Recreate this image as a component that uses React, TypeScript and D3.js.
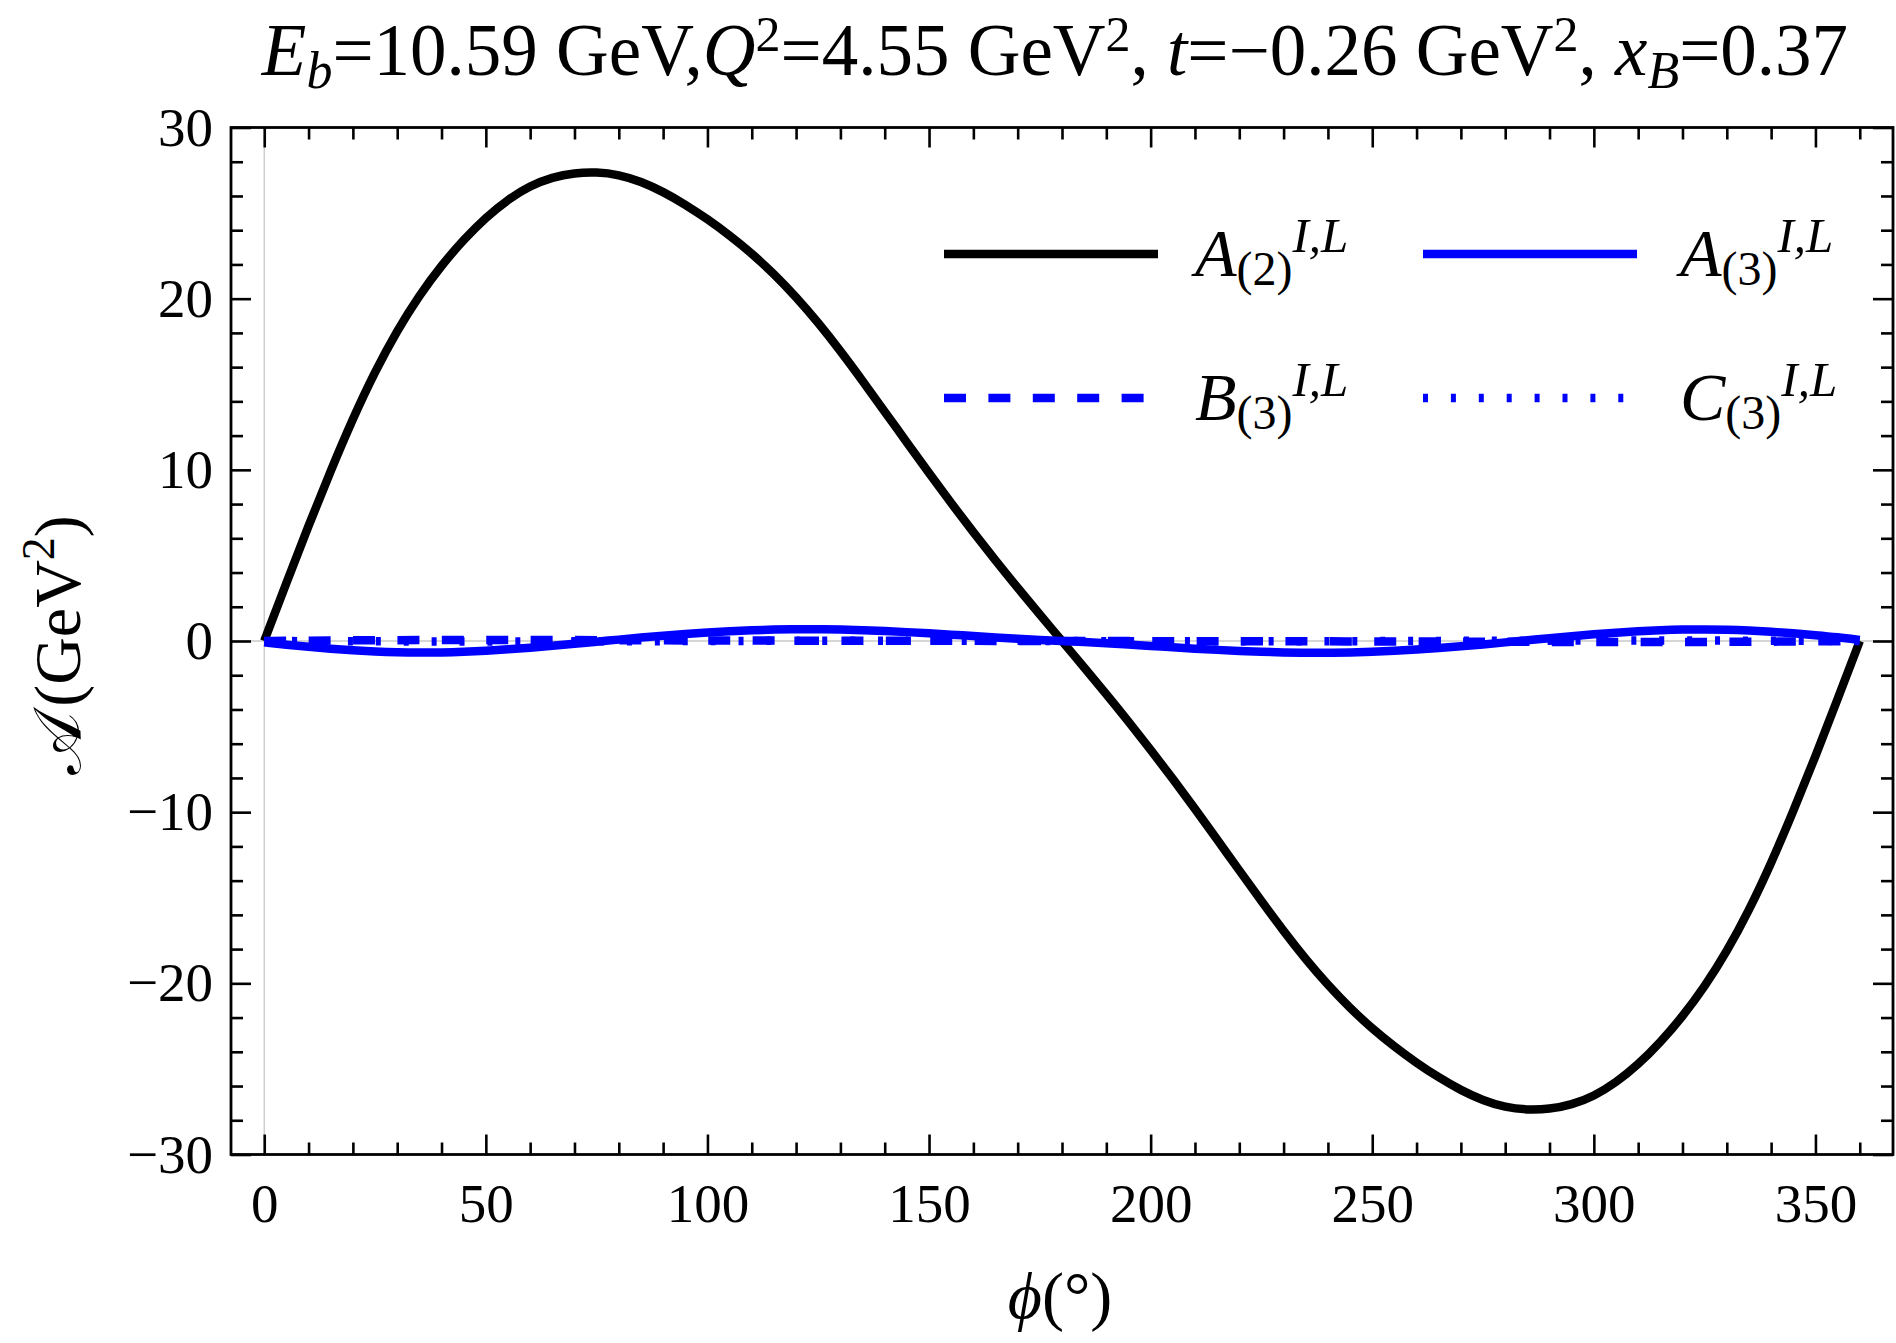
import * as d3 from "d3";
import React from "react";

// phi grid (degrees) for the A curves
const phiA = [
  0, 5, 10, 15, 20, 25, 30, 35, 40, 45, 50, 55, 60, 65, 70, 75, 80, 85, 90, 95,
  100, 105, 110, 115, 120, 125, 130, 135, 140, 145, 150, 155, 160, 165, 170, 175,
  180, 185, 190, 195, 200, 205, 210, 215, 220, 225, 230, 235, 240, 245, 250, 255,
  260, 265, 270, 275, 280, 285, 290, 295, 300, 305, 310, 315, 320, 325, 330, 335,
  340, 345, 350, 355, 360,
];

const a2 = [
  0, 3.4, 6.75, 9.95, 13.0, 15.75, 18.15, 20.2, 21.95, 23.45, 24.75, 25.8, 26.6,
  27.1, 27.35, 27.4, 27.25, 26.85, 26.25, 25.5, 24.65, 23.7, 22.65, 21.45, 20.1,
  18.6, 16.95, 15.2, 13.4, 11.6, 9.8, 8.05, 6.35, 4.7, 3.1, 1.55, 0,
  -1.55, -3.1, -4.7, -6.35, -8.05, -9.8, -11.6, -13.4, -15.2, -16.95, -18.6,
  -20.1, -21.45, -22.65, -23.7, -24.65, -25.5, -26.25, -26.85, -27.25, -27.4,
  -27.35, -27.1, -26.6, -25.8, -24.75, -23.45, -21.95, -20.2, -18.15, -15.75,
  -13.0, -9.95, -6.75, -3.4, 0,
];

const a3 = [
  -0.08, -0.22, -0.34, -0.45, -0.54, -0.61, -0.66, -0.68, -0.67, -0.63, -0.57,
  -0.49, -0.39, -0.28, -0.16, -0.04, 0.08, 0.2, 0.31, 0.41, 0.5, 0.57, 0.63, 0.67,
  0.69, 0.69, 0.67, 0.63, 0.58, 0.52, 0.45, 0.37, 0.29, 0.21, 0.13, 0.06, 0,
  -0.06, -0.13, -0.21, -0.29, -0.37, -0.45, -0.52, -0.58, -0.63, -0.67, -0.69,
  -0.69, -0.67, -0.63, -0.57, -0.5, -0.41, -0.31, -0.2, -0.08, 0.04, 0.16, 0.28,
  0.39, 0.49, 0.57, 0.63, 0.67, 0.68, 0.66, 0.61, 0.54, 0.45, 0.34, 0.22, 0.06,
];

// coarser grid for B and C (both stay close to zero)
const phiBC = [
  0, 10, 20, 30, 40, 50, 60, 70, 80, 90, 100, 110, 120, 130, 140, 150, 160, 170,
  180, 190, 200, 210, 220, 230, 240, 250, 260, 270, 280, 290, 300, 310, 320, 330,
  340, 350, 360,
];

const b3 = [
  0, 0.02, 0.04, 0.05, 0.06, 0.06, 0.06, 0.05, 0.05, 0.04, 0.03, 0.03, 0.02, 0.02,
  0.01, 0.01, 0.01, 0, 0, 0, -0.01, -0.01, -0.01, -0.02, -0.02, -0.03, -0.03,
  -0.04, -0.05, -0.05, -0.06, -0.06, -0.06, -0.05, -0.04, -0.02, 0,
];

const c3 = [
  0, -0.01, -0.02, -0.02, -0.03, -0.03, -0.03, -0.02, -0.02, -0.01, 0, 0.01, 0.01,
  0.02, 0.02, 0.02, 0.01, 0.01, 0, -0.01, -0.01, -0.02, -0.02, -0.02, -0.01,
  -0.01, 0, 0.01, 0.02, 0.02, 0.03, 0.03, 0.03, 0.02, 0.02, 0.01, 0,
];

const xMajorTicks = [0, 50, 100, 150, 200, 250, 300, 350];
const yMajorTicks = [-30, -20, -10, 0, 10, 20, 30];

const W = 1896;
const H = 1343;
const SERIF = "'Liberation Serif', 'Times New Roman', 'DejaVu Serif', serif";

type Series = {
  key: string;
  letter: string;
  sub: string;
  phi: number[];
  values: number[];
  color: string;
  dash: string | null;
};

const series: Series[] = [
  { key: "a2", letter: "A", sub: "(2)", phi: phiA, values: a2, color: "#000000", dash: null },
  { key: "a3", letter: "A", sub: "(3)", phi: phiA, values: a3, color: "#0000ff", dash: null },
  { key: "b3", letter: "B", sub: "(3)", phi: phiBC, values: b3, color: "#0000ff", dash: "22 22.4" },
  { key: "c3", letter: "C", sub: "(3)", phi: phiBC, values: c3, color: "#0000ff", dash: "5 22.9" },
];

export default function App() {
  const ref = React.useRef<SVGSVGElement>(null);

  React.useEffect(() => {
    if (!ref.current) return;
    const svg = d3.select(ref.current);
    svg.selectAll("*").remove();

    const left = 231;
    const right = 1893;
    const top = 127.5;
    const bottom = 1154.5;

    const x = d3.scaleLinear().domain([-7.5, 367.5]).range([left, right]);
    const y = d3.scaleLinear().domain([-30, 30]).range([bottom, top]);

    // light grey axes through the origin
    svg.append("line")
      .attr("x1", x(0)).attr("x2", x(0)).attr("y1", top).attr("y2", bottom)
      .attr("stroke", "#c8c8c8").attr("stroke-width", 1.3);
    svg.append("line")
      .attr("x1", left).attr("x2", right).attr("y1", y(0)).attr("y2", y(0))
      .attr("stroke", "#c8c8c8").attr("stroke-width", 1.3);

    // curves
    const line = d3
      .line<[number, number]>()
      .x((d) => x(d[0]))
      .y((d) => y(d[1]))
      .curve(d3.curveBasis);

    series.forEach((s) => {
      const pts = s.phi.map((p, i) => [p, s.values[i]] as [number, number]);
      svg.append("path")
        .datum(pts)
        .attr("fill", "none")
        .attr("stroke", s.color)
        .attr("stroke-width", 8.5)
        .attr("stroke-dasharray", s.dash)
        .attr("d", line);
    });

    // ticks on all four sides
    const xMinor = d3.range(0, 361, 10).filter((v) => v % 50 !== 0);
    const yMinor = d3.range(-30, 31, 2).filter((v) => v % 10 !== 0);

    const styleAxis = (g: d3.Selection<SVGGElement, unknown, null, undefined>) => {
      g.select(".domain").remove();
      g.selectAll(".tick line").attr("stroke", "#000").attr("stroke-width", 2.6);
      g.selectAll("text")
        .attr("fill", "#000")
        .style("font-family", SERIF)
        .style("font-size", "55px");
    };

    const sides: [string, (s: d3.ScaleLinear<number, number>) => d3.Axis<d3.NumberValue>, string, d3.ScaleLinear<number, number>, boolean][] = [
      ["bottom", d3.axisBottom, `translate(0,${bottom})`, x, true],
      ["top", d3.axisTop, `translate(0,${top})`, x, false],
      ["left", d3.axisLeft, `translate(${left},0)`, y, true],
      ["right", d3.axisRight, `translate(${right},0)`, y, false],
    ];

    sides.forEach(([name, make, tr, sc, labels]) => {
      const isX = name === "bottom" || name === "top";
      const major = make(sc)
        .tickValues(isX ? xMajorTicks : yMajorTicks)
        .tickSizeInner(-20)
        .tickSizeOuter(0)
        .tickPadding(isX ? 28 : 18)
        .tickFormat(labels ? d3.format("") : () => "");
      const minor = make(sc)
        .tickValues(isX ? xMinor : yMinor)
        .tickSizeInner(-12)
        .tickSizeOuter(0)
        .tickFormat(() => "");
      svg.append("g").attr("transform", tr).call(major).call(styleAxis);
      svg.append("g").attr("transform", tr).call(minor).call(styleAxis);
    });

    // frame
    svg.append("rect")
      .attr("x", left).attr("y", top)
      .attr("width", right - left).attr("height", bottom - top)
      .attr("fill", "none").attr("stroke", "#000").attr("stroke-width", 2.8);

    // legend
    const legendCols = [944, 1423];
    const legendLabelX = [1195, 1680];
    const legendRows = [254, 398];
    series.forEach((s, i) => {
      const col = i % 2;
      const row = Math.floor(i / 2);
      const ly = legendRows[row];
      svg.append("line")
        .attr("x1", legendCols[col]).attr("x2", legendCols[col] + 214)
        .attr("y1", ly).attr("y2", ly)
        .attr("stroke", s.color).attr("stroke-width", 8.5)
        .attr("stroke-dasharray", s.dash);
      const t = svg.append("text")
        .attr("x", legendLabelX[col]).attr("y", ly + 22)
        .style("font-family", SERIF).style("font-size", "68px")
        .attr("fill", "#000");
      t.append("tspan").style("font-style", "italic").text(s.letter);
      t.append("tspan").attr("dy", 9).style("font-size", "48px").text(s.sub);
      t.append("tspan").attr("dy", -33).style("font-size", "49px")
        .style("font-style", "italic").text("I,L");
    });

    // title
    const title = svg.append("text")
      .attr("x", 1055).attr("y", 75)
      .attr("text-anchor", "middle")
      .style("font-family", SERIF).style("font-size", "73px")
      .style("white-space", "pre")
      .attr("fill", "#000");
    const parts: [string, string, number, number][] = [
      // text, style, dy, size
      ["E", "italic", 0, 73],
      ["b", "italic", 13, 52],
      ["=10.59 GeV,", "normal", -13, 73],
      ["Q", "italic", 0, 73],
      ["2", "normal", -24, 50],
      ["=4.55 GeV", "normal", 24, 73],
      ["2", "normal", -24, 50],
      [", ", "normal", 24, 73],
      ["t", "italic", 0, 73],
      ["=\u22120.26 GeV", "normal", 0, 73],
      ["2", "normal", -24, 50],
      [", ", "normal", 24, 73],
      ["x", "italic", 0, 73],
      ["B", "italic", 13, 52],
      ["=0.37", "normal", -13, 73],
    ];
    parts.forEach(([txt, st, dy, size]) => {
      title.append("tspan").attr("dy", dy)
        .style("font-style", st).style("font-size", `${size}px`).text(txt);
    });

    // axis labels
    const xl = svg.append("text")
      .attr("x", 1060).attr("y", 1318)
      .attr("text-anchor", "middle")
      .style("font-family", SERIF).style("font-size", "66px")
      .attr("fill", "#000");
    xl.append("tspan").style("font-style", "italic").text("\u03D5");
    xl.append("tspan").text("(\u00B0)");

    const yl = svg.append("text")
      .attr("transform", "translate(80,645) rotate(-90)")
      .attr("text-anchor", "middle")
      .style("font-family", SERIF).style("font-size", "66px")
      .attr("fill", "#000");
    yl.append("tspan").text("\u{1D49C}");
    yl.append("tspan").attr("dx", 6).text("(GeV");
    yl.append("tspan").attr("dy", -26).style("font-size", "46px").text("2");
    yl.append("tspan").attr("dy", 26).text(")");
  }, []);

  return (
    <svg
      ref={ref}
      width={W}
      height={H}
      viewBox={`0 0 ${W} ${H}`}
      style={{ position: "absolute", left: 0, top: 0, background: "#fff" }}
    />
  );
}
